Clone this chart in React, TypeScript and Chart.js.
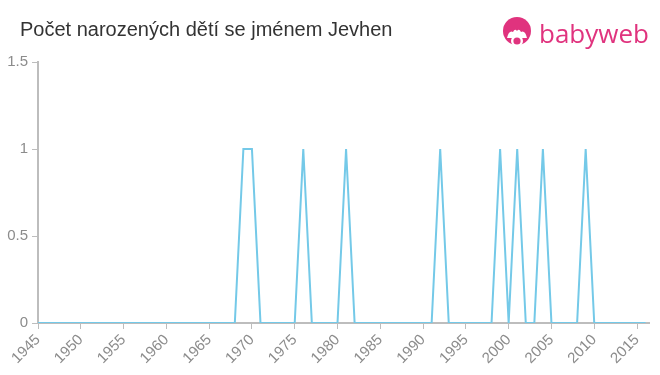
import React, { useEffect, useRef } from "react";
import { Chart, registerables } from "chart.js";

Chart.register(...registerables);

const title = "Počet narozených dětí se jménem Jevhen";
const years = [
  1945, 1946, 1947, 1948, 1949, 1950, 1951, 1952, 1953, 1954,
  1955, 1956, 1957, 1958, 1959, 1960, 1961, 1962, 1963, 1964,
  1965, 1966, 1967, 1968, 1969, 1970, 1971, 1972, 1973, 1974,
  1975, 1976, 1977, 1978, 1979, 1980, 1981, 1982, 1983, 1984,
  1985, 1986, 1987, 1988, 1989, 1990, 1991, 1992, 1993, 1994,
  1995, 1996, 1997, 1998, 1999, 2000, 2001, 2002, 2003, 2004,
  2005, 2006, 2007, 2008, 2009, 2010, 2011, 2012, 2013, 2014,
  2015, 2016,
];
const counts = [
  0, 0, 0, 0, 0, 0, 0, 0, 0, 0,
  0, 0, 0, 0, 0, 0, 0, 0, 0, 0,
  0, 0, 0, 0, 1, 1, 0, 0, 0, 0,
  0, 1, 0, 0, 0, 0, 1, 0, 0, 0,
  0, 0, 0, 0, 0, 0, 0, 1, 0, 0,
  0, 0, 0, 0, 1, 0, 1, 0, 0, 1,
  0, 0, 0, 0, 1, 0, 0, 0, 0, 0,
  0, 0,
];
const yTicks = [0, 0.5, 1, 1.5];

export default function App() {
  const ref = useRef<HTMLCanvasElement | null>(null);
  useEffect(() => {
    if (!ref.current) return;
    const font = "'Liberation Sans', Arial, sans-serif";
    const chart = new Chart(ref.current, {
      type: "line",
      data: {
        datasets: [
          {
            data: years.map((y, i) => ({ x: y, y: counts[i] })),
            borderColor: "#74c9e8",
            borderWidth: 2,
            pointRadius: 0,
            tension: 0,
            fill: false,
          },
        ],
      },
      options: {
        animation: false,
        responsive: false,
        devicePixelRatio: 1,
        layout: { padding: { top: 62, right: 11, left: 0, bottom: 0 } },
        plugins: { legend: { display: false }, tooltip: { enabled: false } },
        scales: {
          x: {
            type: "linear",
            min: 1945,
            max: 2016.4,
            afterFit: (s: any) => { s.height = 52; },
            ticks: {
              stepSize: 5,
              includeBounds: false,
              minRotation: 45,
              maxRotation: 45,
              color: "#8c8c8c",
              font: { family: font, size: 15 },
              padding: 2,
              callback: (v: any) => String(v),
            },
            grid: { drawOnChartArea: false, color: "#bdbdbd", tickLength: 6 },
            border: { color: "#bdbdbd", width: 2 },
          },
          y: {
            min: 0,
            max: 1.5,
            afterFit: (s: any) => { s.width = 38; },
            afterBuildTicks: (s: any) => { s.ticks = yTicks.map((v) => ({ value: v })); },
            ticks: {
              color: "#8c8c8c",
              font: { family: font, size: 15 },
              padding: 4,
              callback: (v: any) => String(v),
            },
            grid: { drawOnChartArea: false, color: "#bdbdbd", tickLength: 6 },
            border: { color: "#bdbdbd", width: 2 },
          },
        },
      },
    });
    return () => chart.destroy();
  }, []);

  return (
    <div style={{ position: "absolute", left: 0, top: 0, width: 660, height: 375, background: "#fff", overflow: "hidden" }}>
      <canvas ref={ref} width={660} height={375} style={{ position: "absolute", left: 0, top: 0, width: 660, height: 375 }} />
      <div style={{ position: "absolute", left: 20, top: 18, fontFamily: "'Liberation Sans', Arial, sans-serif", fontSize: 20, color: "#333" }}>
        {title}
      </div>
      <div style={{ position: "absolute", left: 501, top: 16, display: "flex", alignItems: "center" }}>
        <svg width={32} height={34} viewBox="0 0 32 34">
          <circle cx={16} cy={15} r={14} fill="#e0337e" />
          <path d="M6 22 Q8 14 12 16 Q14 12 16 15 Q18 12 20 16 Q24 14 26 22 Z" fill="#fff" />
          <circle cx={16} cy={25} r={6} fill="#fff" />
          <circle cx={16} cy={25} r={3.6} fill="#e0337e" />
        </svg>
        <span style={{ fontFamily: "'Open Sans', 'DejaVu Sans', sans-serif", fontSize: 26, fontWeight: 500, color: "#e0337e", marginLeft: 6, lineHeight: "30px" }}>
          babyweb
        </span>
      </div>
    </div>
  );
}
